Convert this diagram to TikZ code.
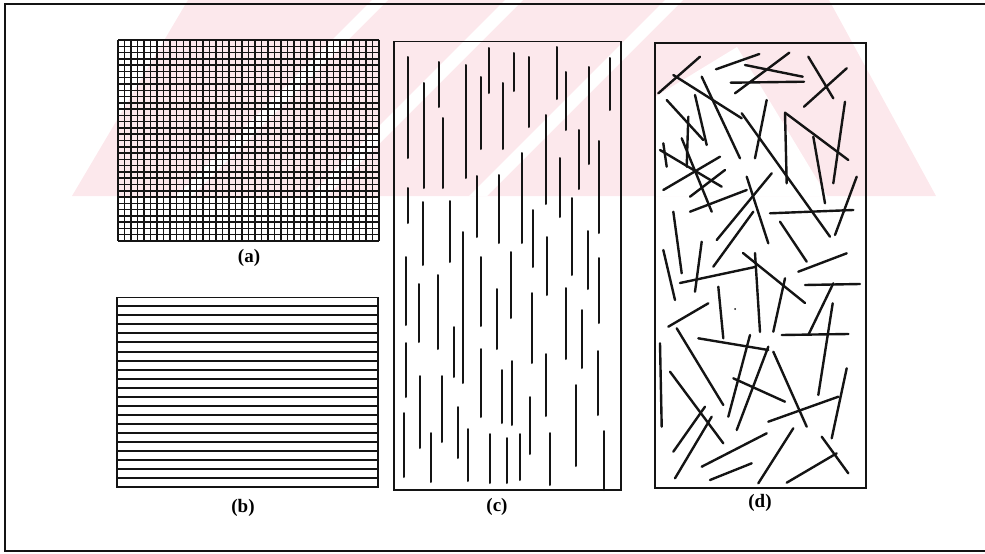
\documentclass[tikz,border=0pt]{standalone}
\usepackage{fontspec}
\setmainfont{Liberation Serif}
\definecolor{wmpink}{RGB}{252,232,236}
\definecolor{ink}{RGB}{20,20,20}
\begin{document}
\begin{tikzpicture}[x=1pt,y=-1pt,
  frameline/.style={ink,line width=2pt},
  boxline/.style={ink,line width=1.6pt},
  gridline/.style={ink,line width=1.5pt},
  hline/.style={ink,line width=2pt},
  fibre/.style={ink,line width=2pt,line cap=round},
  rfibre/.style={ink,line width=2.4pt,line cap=round},
  lab/.style={font=\fontsize{19}{19}\selectfont\bfseries,inner sep=0pt}]
\useasboundingbox (0,0) rectangle (985,554);
% watermark
\begin{scope}
  \clip (0,0) rectangle (985,196);
  \fill[wmpink] (72,196) -- (188,0) -- (829,0) -- (936,196) -- cycle;
  \foreach \a/\w in {372/16,505/18,665/18} {
    \fill[white] (\a,0) -- (\a+\w,0) -- (\a+\w-196,196) -- (\a-196,196) -- cycle;
  }
  \fill[white] (655,196) -- (655,97) -- (737,47) -- (827,196) -- cycle;
\end{scope}
% outer frame
\draw[frameline] (985,4) -- (5,4) -- (5,551) -- (985,551);
% (a) grid
\foreach \i in {0,...,40} \draw[gridline] (118+\i*6.525,40) -- (118+\i*6.525,241);
\foreach \j in {0,...,32} \draw[gridline] (118,40+\j*6.28125) -- (379,40+\j*6.28125);
\node[lab] (la) at (249,258) {(a)};
% (b) parallel lines
\draw[boxline] (116.7,297.3) rectangle (378,487);
\foreach \j in {1,...,20} \draw[hline] (116.7,297.3+\j*9.033) -- (378,297.3+\j*9.033);
\node[lab] (lb) at (243,508) {(b)};
% (c) aligned short fibres
\draw[boxline] (394,41.5) rectangle (620.7,490);
\foreach \x/\ya/\yb in {408.3/57/158, 408/188/223, 424.3/83/188, 439.3/62/107, 443/118/188,
  466/65/178, 481/77/149, 489/48/93, 502.7/83/149, 514.3/53/91, 528.7/57/127, 556.7/47/99,
  565.7/72/130, 589/67/164, 610/58/110, 546/115/204, 579.3/130/189, 599/141/233, 560/158/217,
  522/153/243, 477.3/176/237, 499/175/243, 423.3/202/265, 450/201/262, 533.3/210/267,
  571.7/198/275, 463.3/232/383, 406/257/325, 480.7/257/326, 511/252/318, 546.7/237/295,
  588.3/231/289, 599.3/258/323, 437.7/275/349, 419.3/284/342, 454.3/327/377, 496.7/289/349,
  532.3/293/363, 566/288/359, 581.7/310/368, 406/343/397, 420/376/448, 441.7/376/442,
  480.7/349/417, 501.7/370/423, 512.3/361/425, 546/354/416, 598.3/351/415, 404/413/477,
  430.7/433/482, 458.3/407/458, 468.3/429/481, 490/434/483, 506.7/438/483, 520/434/480,
  530/397/454, 550/433/485, 575.7/385/466, 604.3/431/490}
  \draw[fibre] (\x,\ya) -- (\x,\yb);
\node[lab] (lc) at (497,507) {(c)};
% (d) random fibres
\draw[boxline] (655,42.7) rectangle (866,488);
\foreach \xa/\ya/\xb/\yb in {658.3/93.3/700/56.7, 716/69.3/759.3/54, 735/93.3/789.3/52.7,
  745/65/802.7/76.7, 730.7/82.7/804/81.7, 808.3/56.7/833.3/98.3, 804/106.7/846.7/68.3,
  673.3/75/741.7/118.3, 741.7/113.3/830/236.7, 701.7/76.7/740/158.3, 695/95/706.7/145,
  666.7/100/703.3/140, 688.3/116.7/686.7/166.7, 663.3/143.3/666.7/166.7, 660/150/721.7/186.7,
  681.7/138.3/711.7/211.7, 663.3/190/720/156.7, 690/196.7/725/170, 690/211.7/746.7/190,
  755/158.3/766.7/100, 746.7/176.7/768.3/243.3, 716.7/240/771.7/173.3, 713.3/266.7/753.3/211.7,
  673.3/211.7/681.7/273.3, 663.3/250/675/300, 701.7/241.7/695/291.7, 680/283/755/267,
  755/253/760/332, 743/253/805/303, 785/112.7/848.3/160, 785/112.7/786.7/183.3,
  845/101.7/833.3/183.3, 813.3/136.7/825/203.3, 770/213.3/853.3/210, 780/221.7/806.7/261.7,
  856.7/176.7/835/235, 798.3/271.7/846.7/253.3, 785/278.3/773.3/331.7, 805/285/860/284,
  833.3/283.3/808.3/335, 781.7/335/848.3/334, 832.7/303.3/818.3/395, 668.3/326.7/708.3/303.3,
  718.3/286.7/723.3/338.3, 676.7/328.3/723.3/405, 698.3/338.3/768.3/350, 750/335/728.3/416.7,
  768.3/346.7/736.7/430, 773.3/351.7/806.7/426.7, 733.3/378.3/785/401.7, 660/343.3/661.7/426.7,
  670/371.7/723.3/443.3, 673.3/451.7/705/406.7, 675/478.3/711.7/416.7, 701.7/466.7/766.7/433.3,
  710/480/751.7/463.3, 758.3/483.3/793.3/428.3, 768.3/421.7/838.3/396.7, 846.7/368.3/831.7/438.3,
  786.7/482.7/836.7/453.3, 821.7/436.7/848.3/473.3}
  \draw[rfibre] (\xa,\ya) -- (\xb,\yb);
\fill[ink] (735,309) circle (1pt);
\node[lab] (ld) at (760,503) {(d)};
\end{tikzpicture}
\end{document}
